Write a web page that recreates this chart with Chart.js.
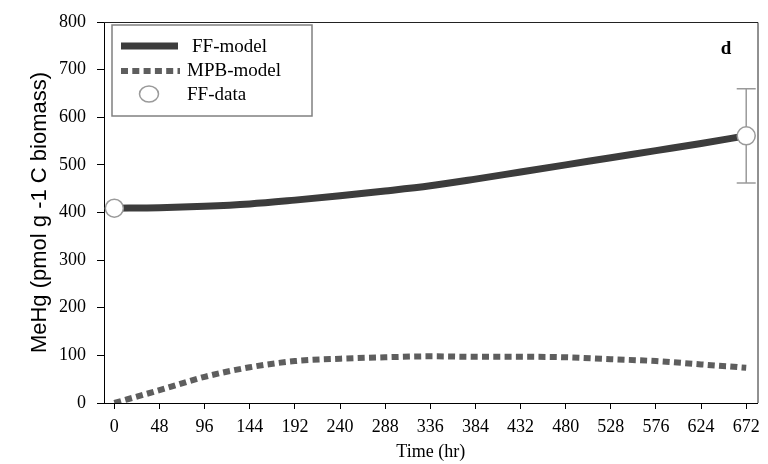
<!DOCTYPE html>
<html>
<head>
<meta charset="utf-8">
<title>MeHg chart</title>
<script src="https://cdn.jsdelivr.net/npm/chart.js@4.4.1/dist/chart.umd.min.js"></script>
<style>
  html, body { margin: 0; padding: 0; background: #fff; }
  #wrap { width: 768px; height: 464px; }
</style>
</head>
<body>
<div id="wrap"><canvas id="myChart" width="768" height="464"></canvas></div>
<script>
// values
const hours = [0, 48, 96, 144, 192, 240, 288, 336, 384, 432, 480, 528, 576, 624, 672];
const ffModel = [409, 410, 413, 418, 426, 435, 445, 456, 470, 485, 500, 515, 530, 545, 561];
const mpbModel = [0, 27, 55, 75, 88, 93, 96, 98, 97, 97, 96, 92, 88, 81, 74];
const ffDataHours = [0, 672];
const ffData = [409, 561];
const ffDataErr = [0, 99];
const xTicks = [0, 48, 96, 144, 192, 240, 288, 336, 384, 432, 480, 528, 576, 624, 672];
const yTicks = [0, 100, 200, 300, 400, 500, 600, 700, 800];

const serif = '"Liberation Serif", "Times New Roman", serif';
const sans = '"Liberation Sans", Arial, sans-serif';

function toPoints(xs, ys) {
    return xs.map((x, i) => ({ x: x, y: ys[i] }));
}

// error bars for the FF data, drawn under the circles
const errorBars = {
    id: 'errorBars',
    beforeDatasetDraw(chart, args) {
        if (args.index !== 0) return;
        const { ctx, scales } = chart;
        ctx.save();
        ctx.strokeStyle = '#9a9a9a';
        ctx.lineWidth = 1.5;
        ffDataHours.forEach((h, i) => {
            if (!ffDataErr[i]) return;
            const x = scales.x.getPixelForValue(h);
            const top = scales.y.getPixelForValue(ffData[i] + ffDataErr[i]);
            const bot = scales.y.getPixelForValue(ffData[i] - ffDataErr[i]);
            ctx.beginPath();
            ctx.moveTo(x, top); ctx.lineTo(x, bot);
            ctx.moveTo(x - 9.5, top); ctx.lineTo(x + 9.5, top);
            ctx.moveTo(x - 9.5, bot); ctx.lineTo(x + 9.5, bot);
            ctx.stroke();
        });
        ctx.restore();
    }
};

// top/right frame, boxed legend and panel letter
const decorations = {
    id: 'decorations',
    afterDraw(chart) {
        const { ctx, chartArea: a } = chart;
        const ds = chart.data.datasets;
        ctx.save();
        ctx.strokeStyle = '#222';
        ctx.lineWidth = 1;
        ctx.beginPath();
        ctx.moveTo(a.left, a.top + 0.5);
        ctx.lineTo(a.right + 0.5, a.top + 0.5);
        ctx.lineTo(a.right + 0.5, a.bottom);
        ctx.stroke();

        // legend box
        ctx.strokeStyle = '#808080';
        ctx.lineWidth = 1.5;
        ctx.strokeRect(112, 25, 200, 91);

        ctx.font = '19px ' + serif;
        ctx.fillStyle = '#000';
        ctx.textBaseline = 'middle';
        ctx.textAlign = 'left';

        // FF-model
        ctx.strokeStyle = ds[1].borderColor;
        ctx.lineWidth = ds[1].borderWidth;
        ctx.lineCap = 'butt';
        ctx.beginPath(); ctx.moveTo(121, 46); ctx.lineTo(178, 46); ctx.stroke();
        ctx.fillText(ds[1].label, 192, 47);

        // MPB-model
        ctx.strokeStyle = ds[2].borderColor;
        ctx.lineWidth = ds[2].borderWidth;
        ctx.setLineDash(ds[2].borderDash);
        ctx.beginPath(); ctx.moveTo(121, 71); ctx.lineTo(180, 71); ctx.stroke();
        ctx.setLineDash([]);
        ctx.fillText(ds[2].label, 187, 71);

        // FF-data
        ctx.strokeStyle = ds[0].pointBorderColor;
        ctx.fillStyle = '#fff';
        ctx.lineWidth = ds[0].pointBorderWidth;
        ctx.beginPath(); ctx.ellipse(149, 94, 9.5, 8, 0, 0, Math.PI * 2); ctx.fill(); ctx.stroke();
        ctx.fillStyle = '#000';
        ctx.fillText(ds[0].label, 187, 95);

        // panel letter
        ctx.font = 'bold 19px ' + serif;
        ctx.textAlign = 'center';
        ctx.fillText('d', 726, 49);
        ctx.restore();
    }
};

const ctx = document.getElementById('myChart').getContext('2d');
const chart = new Chart(ctx, {
    type: 'line',
    data: {
        datasets: [{
            label: 'FF-data',
            data: toPoints(ffDataHours, ffData),
            showLine: false,
            pointRadius: 9,
            pointHoverRadius: 9,
            pointBackgroundColor: '#fff',
            pointBorderColor: '#9a9a9a',
            pointBorderWidth: 1.5,
            clip: false
        }, {
            label: 'FF-model',
            data: toPoints(hours, ffModel),
            borderColor: '#3c3c3c',
            borderWidth: 7,
            pointRadius: 0,
            cubicInterpolationMode: 'monotone',
            borderCapStyle: 'butt'
        }, {
            label: 'MPB-model',
            data: toPoints(hours, mpbModel),
            borderColor: '#5e5e5e',
            borderWidth: 6,
            borderDash: [7, 4.3],
            pointRadius: 0,
            cubicInterpolationMode: 'monotone',
            borderCapStyle: 'butt'
        }]
    },
    options: {
        responsive: false,
        animation: false,
        layout: { padding: { top: 22, right: 8, left: 0, bottom: 0 } },
        plugins: {
            legend: { display: false },
            tooltip: { enabled: false }
        },
        scales: {
            x: {
                type: 'linear',
                min: -11,
                max: 684,
                afterBuildTicks: scale => { scale.ticks = xTicks.map(v => ({ value: v })); },
                afterFit: scale => { scale.height = 61; },
                grid: { drawOnChartArea: false, drawTicks: true, tickLength: 6, tickColor: '#000' },
                border: { display: true, color: '#000', width: 1 },
                ticks: {
                    color: '#000',
                    padding: 7,
                    maxRotation: 0,
                    autoSkip: false,
                    font: { family: serif, size: 18 }
                },
                title: {
                    display: true,
                    text: 'Time (hr)',
                    color: '#000',
                    font: { family: serif, size: 18 },
                    padding: { top: 0, bottom: 1 }
                }
            },
            y: {
                min: 0,
                max: 800,
                afterBuildTicks: scale => { scale.ticks = yTicks.map(v => ({ value: v })); },
                afterFit: scale => { scale.width = 104; },
                grid: { drawOnChartArea: false, drawTicks: true, tickLength: 7, tickColor: '#000' },
                border: { display: true, color: '#000', width: 1 },
                ticks: {
                    color: '#000',
                    padding: 11,
                    font: { family: serif, size: 18 }
                },
                title: {
                    display: true,
                    text: 'MeHg (pmol g -1 C biomass)',
                    color: '#000',
                    font: { family: sans, size: 22 },
                    padding: { top: 27, bottom: 0 }
                }
            }
        }
    },
    plugins: [errorBars, decorations]
});
</script>
</body>
</html>
